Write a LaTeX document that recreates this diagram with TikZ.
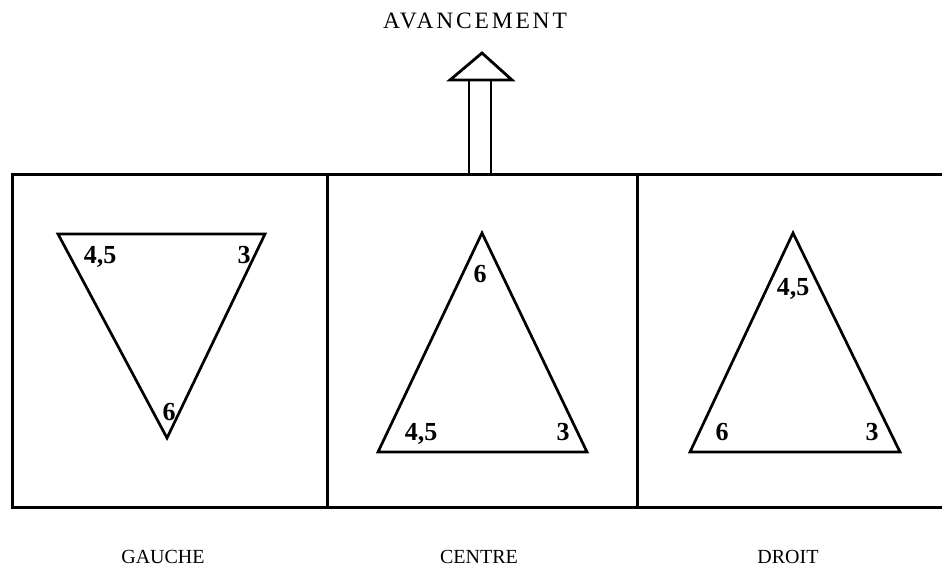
\documentclass[tikz,border=0pt]{standalone}
\usepackage{fontspec}
\setmainfont{Liberation Serif}
\newfontfamily\spacedfont[LetterSpace=12]{Liberation Serif}
\begin{document}
\begin{tikzpicture}[x=1pt,y=-1pt,
  frame/.style={line width=3pt},
  tri/.style={line width=2.7pt, line join=miter},
  num/.style={inner sep=0pt, anchor=base, font=\fontsize{26}{26}\selectfont\bfseries},
  lab/.style={inner sep=0pt, anchor=base, font=\fontsize{20}{20}\selectfont},
  arr/.style={line width=2.8pt, line join=miter}]
\useasboundingbox (0,0) rectangle (942,571);
% title
\node[inner sep=0pt, anchor=base, font=\fontsize{23.5}{23.5}\spacedfont] (title) at (475,28) {AVANCEMENT};
% frame
\coordinate (tl) at (12,174);
\coordinate (bl) at (12,507);
\coordinate (tr) at (942,174);
\coordinate (br) at (942,507);
\draw[frame] (tr) -- (tl) -- (bl) -- (br);
\draw[frame] (327,174) -- (327,507);
\draw[frame] (637,174) -- (637,507);
% arrow
\coordinate (sl) at (469,174);
\coordinate (sr) at (491,174);
\draw[arr] (450,80) -- (482,53) -- (512,80) -- cycle;
\draw[arr] (sl) -- (469,80);
\draw[arr] (sr) -- (491,80);
% left triangle
\coordinate (La) at (58,234);
\coordinate (Lb) at (265,234);
\coordinate (Lc) at (167,438);
\draw[tri] (La) -- (Lb) -- (Lc) -- cycle;
\node[num] (l45) at (100,263) {4,5};
\node[num] (l3) at (244,263) {3};
\node[num] (l6) at (169,420) {6};
% centre triangle
\coordinate (Ca) at (482,233);
\coordinate (Cb) at (378,452);
\coordinate (Cc) at (587,452);
\draw[tri] (Ca) -- (Cb) -- (Cc) -- cycle;
\node[num] (c6) at (480,282) {6};
\node[num] (c45) at (421,440) {4,5};
\node[num] (c3) at (563,440) {3};
% right triangle
\coordinate (Ra) at (793,233);
\coordinate (Rb) at (690,452);
\coordinate (Rc) at (900,452);
\draw[tri] (Ra) -- (Rb) -- (Rc) -- cycle;
\node[num] (r45) at (793,295) {4,5};
\node[num] (r6) at (722,440) {6};
\node[num] (r3) at (872,440) {3};
% bottom labels
\node[lab] (gauche) at (163,563) {GAUCHE};
\node[lab] (centre) at (479,563) {CENTRE};
\node[lab] (droit) at (788,563) {DROIT};
\end{tikzpicture}
\end{document}
